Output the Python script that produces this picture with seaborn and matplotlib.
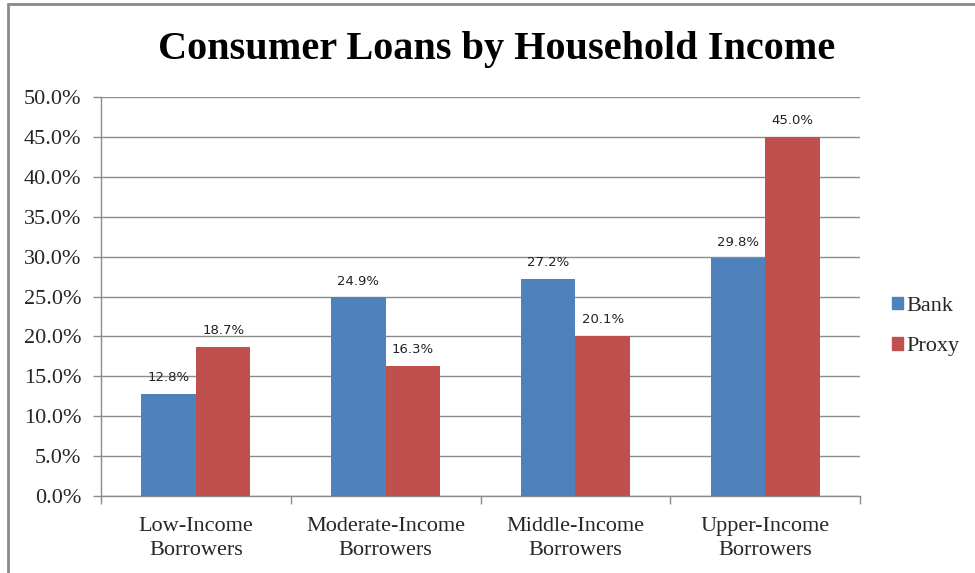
import matplotlib
matplotlib.use("Agg")
import matplotlib.pyplot as plt
import matplotlib.patches as mpatches
import seaborn as sns
import pandas as pd
import numpy as np

categories = ["Low-Income\nBorrowers", "Moderate-Income\nBorrowers",
              "Middle-Income\nBorrowers", "Upper-Income\nBorrowers"]
series = ["Bank", "Proxy"]
bank = [12.8, 24.9, 27.2, 29.8]
proxy = [18.7, 16.3, 20.1, 45.0]
yticks = [0, 5, 10, 15, 20, 25, 30, 35, 40, 45, 50]
colors = {"Bank": "#4F81BD", "Proxy": "#C0504D"}

df = pd.DataFrame({
    "category": categories * 2,
    "series": ["Bank"] * 4 + ["Proxy"] * 4,
    "value": bank + proxy,
})

sns.set_theme(style="white")
plt.rcParams["font.family"] = ["Liberation Serif", "DejaVu Serif"]

fig = plt.figure(figsize=(9.75, 5.73), dpi=100)
ax = fig.add_axes([101 / 975, 1 - 496 / 573, 759 / 975, 399 / 573])

sns.barplot(data=df, x="category", y="value", hue="series", order=categories,
            hue_order=series, palette=colors, width=0.575, saturation=1,
            edgecolor="none", linewidth=0, ax=ax, legend=False, zorder=3)

ax.set_ylim(0, 50)
ax.set_xlim(-0.5, 3.5)
ax.set_yticks(yticks)
ax.set_yticklabels([f"{t:.1f}%" for t in yticks], fontsize=16)
ax.yaxis.grid(True, color="#8c8c8c", linewidth=1.0, zorder=0)
ax.set_axisbelow(True)
ax.tick_params(axis="y", length=6, width=1, color="#8c8c8c", pad=8, left=True)
ax.tick_params(axis="x", which="major", length=0, pad=15, labelsize=16)
for lbl in ax.get_xticklabels():
    lbl.set_linespacing(1.38)
ax.set_xticks(np.arange(-0.5, 4.0, 1.0), minor=True)
ax.tick_params(axis="x", which="minor", length=6, width=1, color="#8c8c8c", bottom=True)
ax.set_xlabel("")
ax.set_ylabel("")
for s in ["top", "right"]:
    ax.spines[s].set_visible(False)
for s in ["left", "bottom"]:
    ax.spines[s].set_color("#8c8c8c")
    ax.spines[s].set_linewidth(1.0)

for cont in ax.containers:
    ax.bar_label(cont, labels=[f"{v:.1f}%" for v in cont.datavalues],
                 padding=6.8, fontsize=9.5, family="DejaVu Sans", color="#222222")

fig.text(0.509, 0.913, "Consumer Loans by Household Income", ha="center",
         va="center", fontsize=29, fontweight="bold", color="black")

handles = [mpatches.Patch(color=colors[s], label=s) for s in series]
fig.legend(handles=handles, loc="center left", bbox_to_anchor=(0.906, 0.43),
           frameon=False, fontsize=16, handlelength=0.5, handleheight=0.5,
           handletextpad=0.15, labelspacing=0.95, borderaxespad=0)

border = mpatches.Rectangle((8 / 975, -0.05), 1.2, 1 - 4 / 573 + 0.05,
                            transform=fig.transFigure, fill=False,
                            edgecolor="#8a8a8a", linewidth=2.0, clip_on=False)
fig.patches.append(border)

fig.savefig("out.png", dpi=100)
